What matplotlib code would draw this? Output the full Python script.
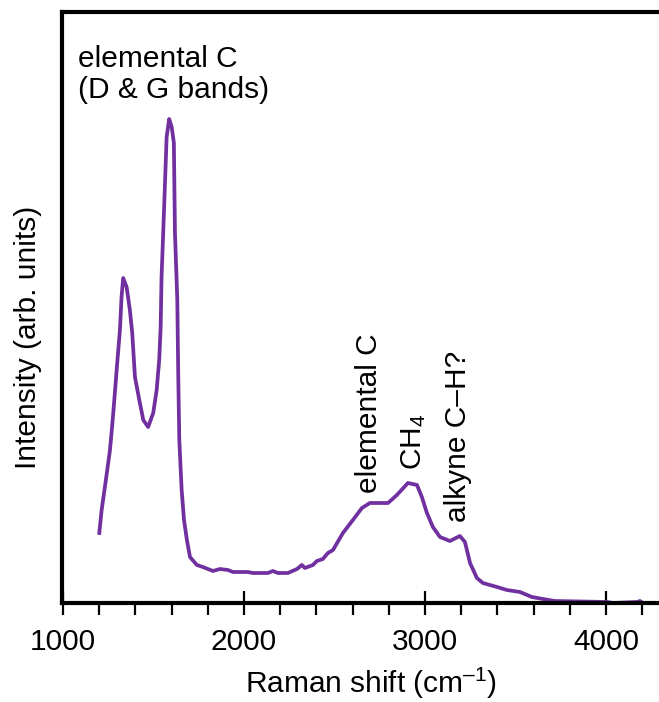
import matplotlib
matplotlib.use("Agg")
import matplotlib.pyplot as plt
from matplotlib.ticker import MultipleLocator

plt.rcParams['font.family'] = ['Liberation Sans', 'DejaVu Sans']
plt.rcParams['mathtext.fontset'] = 'custom'
plt.rcParams['mathtext.rm'] = 'Liberation Sans'
plt.rcParams['mathtext.it'] = 'Liberation Sans:italic'
plt.rcParams['mathtext.bf'] = 'Liberation Sans:bold'

# Raman shift (cm^-1) and intensity (arb. units)
shift = [1201, 1214, 1232, 1245, 1260, 1275, 1287, 1300, 1315, 1324, 1333,
         1352, 1370, 1383, 1398, 1422, 1444, 1471, 1499, 1518, 1532, 1540,
         1545, 1554, 1564, 1573, 1587, 1601, 1613, 1619, 1632, 1637, 1643,
         1656, 1669, 1685, 1702, 1740, 1773, 1829, 1867, 1912, 1939, 2022,
         2050, 2133, 2160, 2188, 2243, 2293, 2320, 2337, 2381, 2403, 2436,
         2464, 2492, 2547, 2602, 2652, 2696, 2796, 2845, 2906, 2956, 2983,
         3011, 3044, 3083, 3138, 3193, 3221, 3249, 3287, 3320, 3398, 3453,
         3525, 3591, 3652, 3718, 4006, 4039, 4171, 4188, 4204]
intensity = [70, 93, 116, 133, 153, 183, 210, 240, 273, 306, 325,
             316, 293, 270, 226, 203, 183, 176, 190, 213, 243, 276,
             326, 370, 420, 466, 484, 476, 460, 370, 303, 230, 163,
             113, 83, 63, 46, 38, 36, 32, 34, 33, 31, 31,
             30, 30, 32, 30, 30, 34, 38, 35, 38, 42, 44,
             50, 53, 70, 83, 95, 100, 100, 108, 120, 118, 106,
             90, 76, 66, 62, 67, 61, 40, 25, 20, 16, 13,
             11, 6, 4, 2, 1, 0, 1, 2, 0]

xticks_major = [1000, 2000, 3000, 4000]

fig = plt.figure(figsize=(6.59, 7.02), dpi=100)
ax = fig.add_axes([62/659, 99/702, 597/659, 591/702])
ax.plot(shift, intensity, color='#7030A0', lw=2.7, solid_joinstyle='round')

ax.set_xlim(995, 4293)
ax.set_ylim(0, 591)
ax.set_xticks(xticks_major)
ax.xaxis.set_minor_locator(MultipleLocator(200))
ax.set_yticks([])
ax.tick_params(axis='x', which='major', direction='inout', length=17, width=1.6,
               labelsize=21.5, pad=9.5)
ax.tick_params(axis='x', which='minor', direction='out', length=8.5, width=1.6)
for s in ['left', 'top', 'bottom']:
    ax.spines[s].set_linewidth(3)
ax.spines['right'].set_visible(False)

fig.text(28/659, 1 - 337/702, 'Intensity (arb. units)', rotation=90,
         ha='center', va='center', fontsize=21.5)
fig.text(371/659, 1 - 683/702, 'Raman shift (cm$^{\\mathrm{–1}}$)',
         ha='center', va='center', fontsize=21.5)

ax.text(1083, 558, 'elemental C\n(D & G bands)', fontsize=21.5,
        ha='left', va='top', linespacing=1.12)
ax.text(2690, 110, 'elemental C', rotation=90, fontsize=21.5,
        ha='center', va='bottom')
ax.text(2940, 133, 'CH$_4$', rotation=90, fontsize=21.5,
        ha='center', va='bottom')
ax.text(3180, 81, 'alkyne C–H?', rotation=90, fontsize=21.5,
        ha='center', va='bottom')

fig.savefig('out.png', dpi=100)
